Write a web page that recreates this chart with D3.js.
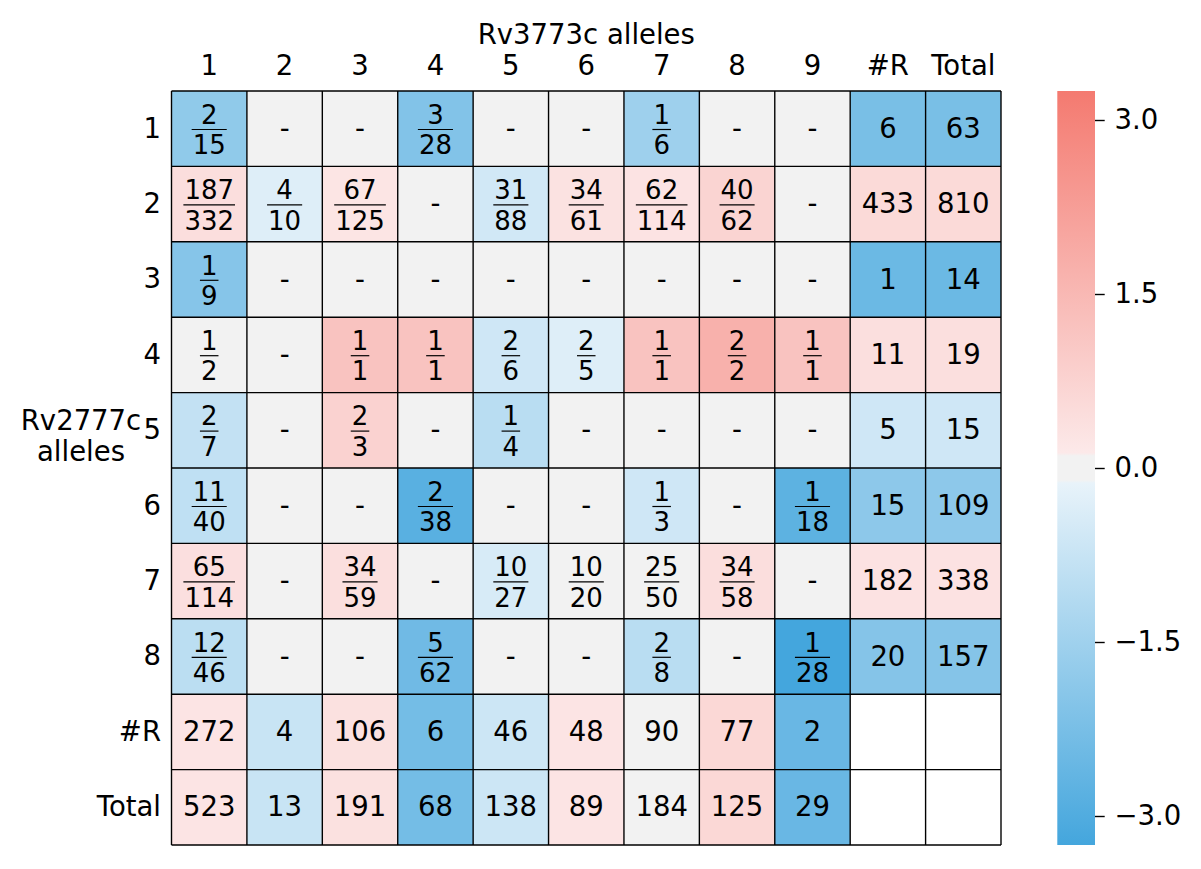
<!DOCTYPE html>
<html>
<head>
<meta charset="utf-8">
<script src="https://cdn.jsdelivr.net/npm/d3@7"></script>
<style>
  body { margin: 0; background: #ffffff; }
  text { font-family: "DejaVu Sans", sans-serif; fill: #000; }
</style>
</head>
<body>
<svg id="chart" width="1201" height="869"></svg>
<script>
// ---------------- data ----------------
const rowLabels = ["1", "2", "3", "4", "5", "6", "7", "8", "#R", "Total"];
const colLabels = ["1", "2", "3", "4", "5", "6", "7", "8", "9", "#R", "Total"];
const xTitle = "Rv3773c alleles";
const yTitle = ["Rv2777c", "alleles"];

// resistant counts (numerators) per Rv2777c allele (rows) x Rv3773c allele (cols); null = "-"
const resistant = [
  [2, null, null, 3, null, null, 1, null, null],
  [187, 4, 67, null, 31, 34, 62, 40, null],
  [1, null, null, null, null, null, null, null, null],
  [1, null, 1, 1, 2, 2, 1, 2, 1],
  [2, null, 2, null, 1, null, null, null, null],
  [11, null, null, 2, null, null, 1, null, 1],
  [65, null, 34, null, 10, 10, 25, 34, null],
  [12, null, null, 5, null, null, 2, null, 1]
];
// totals (denominators)
const totals = [
  [15, null, null, 28, null, null, 6, null, null],
  [332, 10, 125, null, 88, 61, 114, 62, null],
  [9, null, null, null, null, null, null, null, null],
  [2, null, 1, 1, 6, 5, 1, 2, 1],
  [7, null, 3, null, 4, null, null, null, null],
  [40, null, null, 38, null, null, 3, null, 18],
  [114, null, 59, null, 27, 20, 50, 58, null],
  [46, null, null, 62, null, null, 8, null, 28]
];
// colour values (log odds ratio) of the cells
const cellValues = [
  [-1.80, 0, 0, -2.07, 0, 0, -1.53, 0, 0],
  [0.45, -0.32, 0.25, 0, -0.56, 0.33, 0.29, 0.72, 0],
  [-2.00, 0, 0, 0, 0, 0, 0, 0, 0],
  [0.09, 0, 1.19, 1.19, -0.61, -0.32, 1.19, 1.70, 1.19],
  [-0.84, 0, 0.78, 0, -1.02, 0, 0, 0, 0],
  [-0.91, 0, 0, -2.85, 0, 0, -0.61, 0, -2.77],
  [0.40, 0, 0.41, 0, -0.45, 0.09, 0.09, 0.45, 0],
  [-0.99, 0, 0, -2.42, 0, 0, -1.02, 0, -3.25]
];
// row margins
const rowResistant = [6, 433, 1, 11, 5, 15, 182, 20];
const rowTotal = [63, 810, 14, 19, 15, 109, 338, 157];
const rowValues = [-2.24, 0.56, -2.50, 0.41, -0.61, -1.87, 0.32, -2.02];
// column margins
const colResistant = [272, 4, 106, 6, 46, 48, 90, 77, 2];
const colTotal = [523, 13, 191, 68, 138, 89, 184, 125, 29];
const colValues = [0.27, -0.73, 0.36, -2.33, -0.67, 0.26, 0.05, 0.61, -2.55];

const colorbarTicks = [-3, -1.5, 0, 1.5, 3];
const vLimit = 3.25;

// ---------------- layout ----------------
const FS = 27.5;
const FS_FRAC = 26;
const svg = d3.select("#chart");
const x = d3.scaleBand().domain(colLabels).range([171.5, 1001]);
const y = d3.scaleBand().domain(rowLabels).range([91, 845]);

const color = d3.scaleLinear()
  .domain([-vLimit, -0.13, -0.105, 0.105, 0.13, vLimit])
  .range(["rgb(68,166,221)", "rgb(232,243,250)", "rgb(242,242,242)", "rgb(242,242,242)", "rgb(252,233,233)", "rgb(244,122,112)"])
  .interpolate(d3.interpolateRgb)
  .clamp(true);

// build cells
const cells = [];
rowLabels.forEach((r, i) => {
  colLabels.forEach((c, j) => {
    let cell = { r, c, value: null, kind: "empty" };
    if (i < 8 && j < 9) {
      const k = resistant[i][j], n = totals[i][j];
      cell.value = cellValues[i][j];
      cell.kind = k === null ? "dash" : "frac";
      cell.num = k; cell.den = n;
    } else if (i < 8 && j === 9) {
      cell.value = rowValues[i]; cell.kind = "num"; cell.text = rowResistant[i];
    } else if (i < 8 && j === 10) {
      cell.value = rowValues[i]; cell.kind = "num"; cell.text = rowTotal[i];
    } else if (i === 8 && j < 9) {
      cell.value = colValues[j]; cell.kind = "num"; cell.text = colResistant[j];
    } else if (i === 9 && j < 9) {
      cell.value = colValues[j]; cell.kind = "num"; cell.text = colTotal[j];
    }
    cells.push(cell);
  });
});

const gCells = svg.append("g");
gCells.selectAll("rect").data(cells).join("rect")
  .attr("x", d => x(d.c)).attr("y", d => y(d.r))
  .attr("width", x.bandwidth()).attr("height", y.bandwidth())
  .attr("fill", d => d.value === null ? "#ffffff" : color(d.value));

// grid lines
const gLines = svg.append("g").attr("stroke", "#000").attr("stroke-width", 1.39);
gLines.selectAll("line.v").data(d3.range(colLabels.length + 1)).join("line")
  .attr("x1", i => 171.5 + i * x.bandwidth()).attr("x2", i => 171.5 + i * x.bandwidth())
  .attr("y1", 91).attr("y2", 845);
gLines.selectAll("line.h").data(d3.range(rowLabels.length + 1)).join("line")
  .attr("y1", i => 91 + i * y.bandwidth()).attr("y2", i => 91 + i * y.bandwidth())
  .attr("x1", 171.5).attr("x2", 1001);

// cell texts
const gText = svg.append("g").attr("font-size", FS).attr("text-anchor", "middle");
cells.forEach(d => {
  const cx = x(d.c) + x.bandwidth() / 2;
  const cy = y(d.r) + y.bandwidth() / 2;
  if (d.kind === "dash") {
    gText.append("text").attr("x", cx).attr("y", cy + 9).text("-");
  } else if (d.kind === "num") {
    gText.append("text").attr("x", cx).attr("y", cy + 9).text(d.text);
  } else if (d.kind === "frac") {
    const t1 = gText.append("text").attr("font-size", FS_FRAC).attr("x", cx).attr("y", cy - 5).text(d.num);
    const t2 = gText.append("text").attr("font-size", FS_FRAC).attr("x", cx).attr("y", cy + 25.5).text(d.den);
    const w = Math.max(t1.node().getComputedTextLength(), t2.node().getComputedTextLength());
    gText.append("line")
      .attr("x1", cx - w / 2 - 1).attr("x2", cx + w / 2 + 1)
      .attr("y1", cy + 0.8).attr("y2", cy + 0.8)
      .attr("stroke", "#000").attr("stroke-width", 1.2);
  }
});

// axes
const axTop = svg.append("g").attr("transform", "translate(0,91)")
  .call(d3.axisTop(x).tickSize(0).tickPadding(16));
axTop.select(".domain").remove();
axTop.selectAll("text").attr("font-size", FS).attr("font-family", "DejaVu Sans").attr("fill", "#000");

const axLeft = svg.append("g").attr("transform", "translate(171.5,0)")
  .call(d3.axisLeft(y).tickSize(0).tickPadding(10.5));
axLeft.select(".domain").remove();
axLeft.selectAll("text").attr("font-size", FS).attr("font-family", "DejaVu Sans").attr("fill", "#000");

svg.append("text").attr("x", 586.25).attr("y", 44).attr("text-anchor", "middle")
  .attr("font-size", FS).text(xTitle);
svg.append("text").attr("text-anchor", "middle").attr("font-size", FS)
  .selectAll("tspan").data(yTitle).join("tspan")
  .attr("x", 81).attr("y", (d, i) => 430 + i * 31).text(d => d);

// colorbar
const cb = d3.scaleLinear().domain([-vLimit, vLimit]).range([845, 91]);
const defs = svg.append("defs");
const grad = defs.append("linearGradient").attr("id", "cbGrad")
  .attr("x1", 0).attr("y1", 1).attr("x2", 0).attr("y2", 0);
grad.selectAll("stop").data(color.domain()).join("stop")
  .attr("offset", v => (v + vLimit) / (2 * vLimit))
  .attr("stop-color", v => color(v));
svg.append("rect").attr("x", 1057.3).attr("y", cb(vLimit))
  .attr("width", 37.7).attr("height", cb(-vLimit) - cb(vLimit))
  .attr("fill", "url(#cbGrad)");
const axCb = svg.append("g").attr("transform", "translate(1095,0)")
  .call(d3.axisRight(cb).tickValues(colorbarTicks).tickSize(9.7).tickPadding(9.7).tickFormat(d3.format(".1f")));
axCb.select(".domain").remove();
axCb.selectAll("line").attr("stroke", "#000").attr("stroke-width", 1.4);
axCb.selectAll("text").attr("font-size", FS).attr("font-family", "DejaVu Sans").attr("fill", "#000");
</script>
</body>
</html>
